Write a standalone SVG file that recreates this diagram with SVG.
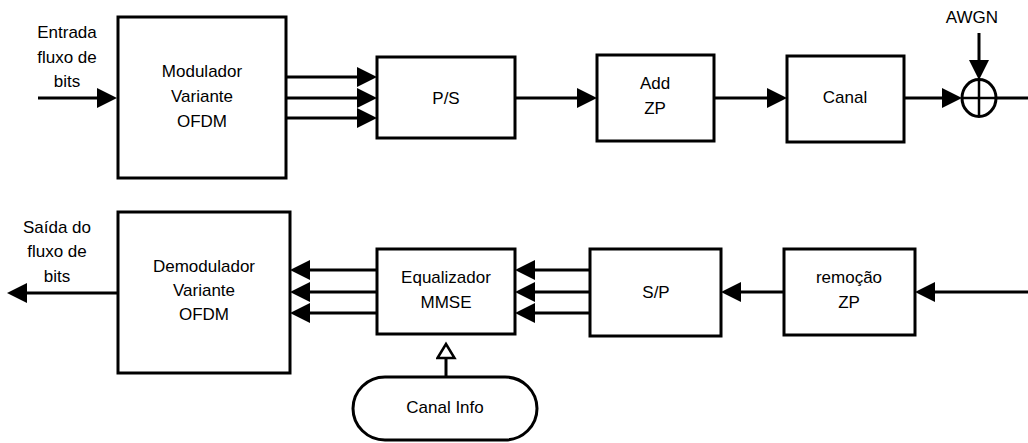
<svg xmlns="http://www.w3.org/2000/svg" width="1028" height="443" viewBox="0 0 1028 443">
  <style>
    .box { fill: #ffffff; stroke: #000000; stroke-width: 3; }
    .wire { fill: none; stroke: #000000; stroke-width: 3; }
    .lbl { font-family: "Liberation Sans", Arial, Helvetica, sans-serif; font-size: 17px; fill: #000000; text-anchor: middle; }
  </style>
  <defs>
    <marker id="arrow" markerUnits="userSpaceOnUse" markerWidth="22" markerHeight="22" refX="10" refY="10" orient="auto">
      <path d="M0,0 L20,10 L0,20 z" fill="#000000"/>
    </marker>
    <marker id="hollow" markerUnits="userSpaceOnUse" markerWidth="24" markerHeight="24" refX="12" refY="10" orient="auto">
      <path d="M2,1.5 L16,10 L2,18.5 z" fill="#ffffff" stroke="#000000" stroke-width="2.5"/>
    </marker>
  </defs>

  <rect width="1028" height="443" fill="#ffffff"/>

  <!-- connectors -->
  <g id="connectors">
    <!-- transmitter chain -->
    <path class="wire" d="M38,98 H107" marker-end="url(#arrow)"/>
    <path class="wire" d="M286,77 H367" marker-end="url(#arrow)"/>
    <path class="wire" d="M286,98 H367" marker-end="url(#arrow)"/>
    <path class="wire" d="M286,118 H367" marker-end="url(#arrow)"/>
    <path class="wire" d="M515,98 H587" marker-end="url(#arrow)"/>
    <path class="wire" d="M714,98 H777" marker-end="url(#arrow)"/>
    <path class="wire" d="M904,98 H952" marker-end="url(#arrow)"/>
    <path class="wire" d="M996,98 H1028"/>
    <path class="wire" d="M979,33 V70" marker-end="url(#arrow)"/>
    <!-- receiver chain -->
    <path class="wire" d="M1028,292 H925" marker-end="url(#arrow)"/>
    <path class="wire" d="M784,292 H731" marker-end="url(#arrow)"/>
    <path class="wire" d="M590,270 H525" marker-end="url(#arrow)"/>
    <path class="wire" d="M590,292 H525" marker-end="url(#arrow)"/>
    <path class="wire" d="M590,313 H525" marker-end="url(#arrow)"/>
    <path class="wire" d="M377,270 H300" marker-end="url(#arrow)"/>
    <path class="wire" d="M377,292 H300" marker-end="url(#arrow)"/>
    <path class="wire" d="M377,313 H300" marker-end="url(#arrow)"/>
    <path class="wire" d="M118,293 H17" marker-end="url(#arrow)"/>
    <path class="wire" d="M446,377 V348" marker-end="url(#hollow)"/>
  </g>

  <!-- free labels -->
  <g id="input-label">
    <text class="lbl" x="67" y="38">Entrada</text>
    <text class="lbl" x="67" y="63">fluxo de</text>
    <text class="lbl" x="67" y="87">bits</text>
  </g>
  <g id="output-label">
    <text class="lbl" x="57" y="233">Saída do</text>
    <text class="lbl" x="57" y="257">fluxo de</text>
    <text class="lbl" x="57" y="282">bits</text>
  </g>

  <!-- transmitter blocks -->
  <g id="modulador">
    <rect class="box" x="118" y="17" width="168" height="161"/>
    <text class="lbl" x="202" y="77">Modulador</text>
    <text class="lbl" x="202" y="102">Variante</text>
    <text class="lbl" x="202" y="127">OFDM</text>
  </g>
  <g id="ps">
    <rect class="box" x="377" y="57" width="138" height="81"/>
    <text class="lbl" x="446" y="104">P/S</text>
  </g>
  <g id="add-zp">
    <rect class="box" x="597" y="55" width="117" height="86"/>
    <text class="lbl" x="655" y="89">Add</text>
    <text class="lbl" x="655" y="114">ZP</text>
  </g>
  <g id="canal">
    <rect class="box" x="787" y="56" width="117" height="86"/>
    <text class="lbl" x="845" y="103">Canal</text>
  </g>
  <g id="somador">
    <ellipse cx="979" cy="98" rx="17" ry="18.5" fill="#ffffff" stroke="#000000" stroke-width="3"/>
    <path d="M979,80 V117 M962,98 H996" stroke="#000000" stroke-width="2.5" fill="none"/>
  </g>
  <g id="awgn">
    <text class="lbl" x="972" y="23">AWGN</text>
  </g>

  <!-- receiver blocks -->
  <g id="demodulador">
    <rect class="box" x="118" y="212" width="172" height="161"/>
    <text class="lbl" x="204" y="272">Demodulador</text>
    <text class="lbl" x="204" y="296">Variante</text>
    <text class="lbl" x="204" y="320">OFDM</text>
  </g>
  <g id="equalizador">
    <rect class="box" x="377" y="249" width="138" height="85"/>
    <text class="lbl" x="446" y="283">Equalizador</text>
    <text class="lbl" x="446" y="308">MMSE</text>
  </g>
  <g id="sp">
    <rect class="box" x="590" y="249" width="131" height="87"/>
    <text class="lbl" x="656" y="298">S/P</text>
  </g>
  <g id="remocao-zp">
    <rect class="box" x="784" y="249" width="131" height="86"/>
    <text class="lbl" x="849" y="283">remoção</text>
    <text class="lbl" x="849" y="308">ZP</text>
  </g>
  <g id="canal-info">
    <rect class="box" x="353" y="377" width="184" height="63" rx="32" ry="31.5"/>
    <text class="lbl" x="445" y="413">Canal Info</text>
  </g>
</svg>
